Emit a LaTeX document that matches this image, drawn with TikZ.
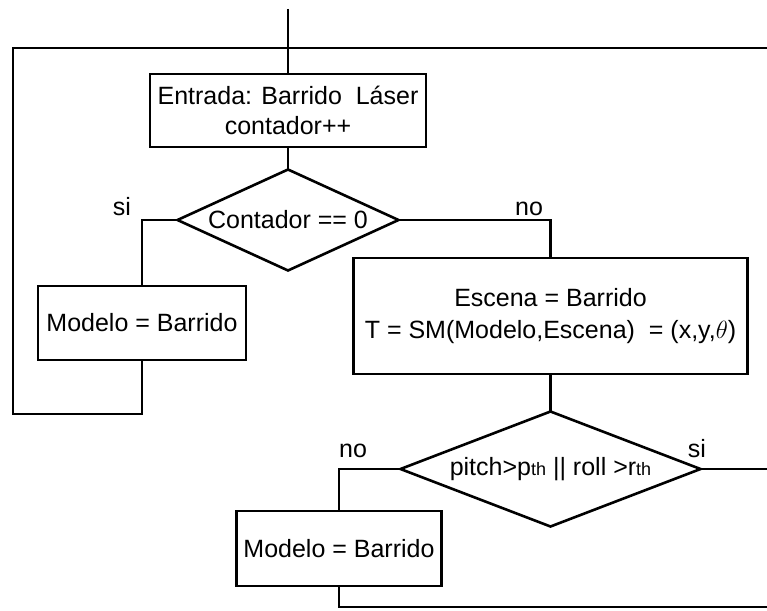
\documentclass[tikz,border=0pt]{standalone}
\usepackage{fontspec}
\setmainfont{Liberation Sans}
\usetikzlibrary{shapes.geometric}
\begin{document}
\begin{tikzpicture}[x=1pt,y=-1pt,
  line width=2.6pt,
  every node/.style={font=\fontsize{25}{30}\selectfont},
  procbox/.style={draw,rectangle,inner sep=0pt,outer sep=0pt,align=center},
  decision/.style={draw,diamond,aspect=3,inner sep=0pt,outer sep=0pt,align=center},
  branch/.style={anchor=base}
]
\useasboundingbox (0,0) rectangle (767,610);

% process boxes
\node[procbox,minimum width=276,minimum height=73] (box1) at (288,110.5)
  {Entrada: Barrido\ \ Láser\\contador++};
\node[decision,minimum width=221,minimum height=101] (d1) at (288,220)
  {Contador == 0};
\node[procbox,minimum width=208,minimum height=74] (m1) at (142,323)
  {Modelo = Barrido};
\node[procbox,minimum width=394,minimum height=116,
      font=\fontsize{25}{32}\selectfont] (b2) at (550.5,316)
  {Escena = Barrido\\T = SM(Modelo,Escena)\ \ = (x,y,$\theta$)};
\node[decision,minimum width=300,minimum height=115] (d2) at (550.5,469)
  {pitch>p{\fontsize{18}{18}\selectfont th} || roll >r{\fontsize{18}{18}\selectfont th}};
\node[procbox,minimum width=205,minimum height=75] (m2) at (339,548.5)
  {Modelo = Barrido};

% free ends of the flow lines
\coordinate (in) at (288,9);
\coordinate (lb) at (13,414);
\coordinate (rt) at (767,48);
\coordinate (rm) at (767,469);
\coordinate (rb) at (767,607);

% connectors
\draw (in) -- (box1.north);
\draw (box1.south) -- (d1.north);
\draw (d1.west) -| (m1.north);
\draw (d1.east) -| (b2.north);
\draw (m1.south) |- (lb) |- (rt);
\draw (b2.south) -- (d2.north);
\draw (d2.west) -| (m2.north);
\draw (d2.east) -- (rm);
\draw (m2.south) |- (rb);

% branch labels
\node[branch] (l1) at (122,215) {si};
\node[branch] (l2) at (529,215) {no};
\node[branch] (l3) at (353,457) {no};
\node[branch] (l4) at (697,457) {si};
\end{tikzpicture}
\end{document}
